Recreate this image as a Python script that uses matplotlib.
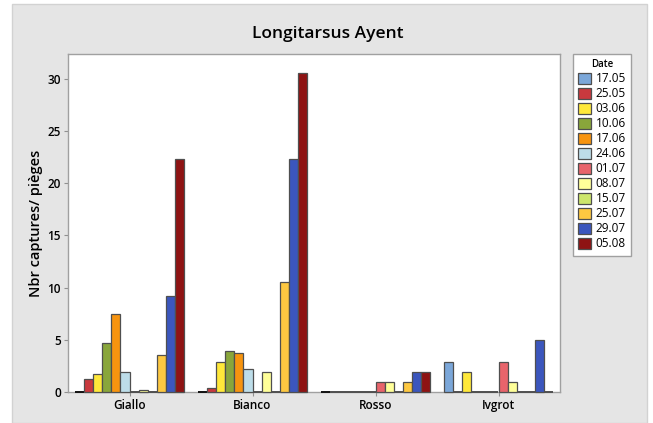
import numpy as np
import matplotlib.pyplot as plt
from matplotlib.patches import Rectangle, Patch

sites = ["Giallo", "Bianco", "Rosso", "Ivgrot"]
dates = ["17.05", "25.05", "03.06", "10.06", "17.06", "24.06",
         "01.07", "08.07", "15.07", "25.07", "29.07", "05.08"]
colors = ["#7ba7d9", "#c9393e", "#ffe83a", "#89a63b", "#f7940f", "#bddde9",
          "#e8646b", "#ffff99", "#cde66b", "#fdc841", "#3b56bd", "#8e1313"]

# mean captures per trap, one value per date
giallo = [0, 1.2, 1.7, 4.7, 7.5, 1.9, 0, 0.2, 0, 3.5, 9.2, 22.3]
bianco = [0, 0.4, 2.9, 3.9, 3.7, 2.2, 0, 1.9, 0, 10.5, 22.3, 30.5]
rosso = [0, 0, 0, 0, 0, 0, 1.0, 1.0, 0, 1.0, 1.9, 1.9]
ivgrot = [2.9, 0, 1.9, 0, 0, 0, 2.9, 1.0, 0, 0, 5.0, 0]

counts = np.array([giallo, bianco, rosso, ivgrot])

plt.rcParams['font.family'] = ['Open Sans', 'DejaVu Sans']

W, H = 653, 423
fig = plt.figure(figsize=(W / 100, H / 100), dpi=100, facecolor="white")

# grey panel behind everything
fig.patches.append(Rectangle((12 / W, 0), (647 - 12) / W, (H - 4.5) / H,
                             transform=fig.transFigure, facecolor="#e5e5e5",
                             edgecolor="#d2d2d2", linewidth=1, zorder=-5))

ax = fig.add_axes([68 / W, 1 - 392 / H, (560 - 68) / W, (392 - 54) / H])
ax.set_facecolor("white")

x = np.arange(len(sites))
width = 0.0734
n = len(dates)
for i, (d, c) in enumerate(zip(dates, colors)):
    offs = (i - (n - 1) / 2) * width
    # empty dates still show as a flat outline on the baseline
    edge = "#111111" if i == 0 else "#4f4f4f"
    bars = ax.bar(x + offs, counts[:, i], width, color=c, edgecolor="#4f4f4f",
                  linewidth=0.9, label=d, zorder=3, clip_on=False)
    for b, v in zip(bars, counts[:, i]):
        if v == 0:
            b.set_edgecolor(edge)
            b.set_linewidth(1.4)

ax.set_xlim(-0.5, 3.5)
ax.set_ylim(0, 32.35)
ax.set_yticks([0, 5, 10, 15, 20, 25, 30])
ax.set_xticks(x)
ax.set_xticklabels(sites, fontsize=8.5, fontweight="semibold")
ax.tick_params(axis="y", labelsize=8.5, length=3, color="#909090", pad=2)
ax.tick_params(axis="x", length=3, color="#909090", pad=2)
for lab in ax.get_yticklabels():
    lab.set_fontweight("semibold")
for s in ax.spines.values():
    s.set_color("#a0a0a0")
    s.set_linewidth(1)

ax.set_ylabel("Nbr captures/ pièges", fontsize=10.5, fontweight="semibold",
              labelpad=3)
fig.text(328 / W, 1 - 34 / H, "Longitarsus Ayent", ha="center", va="center",
         fontsize=12.5, fontweight="semibold")

handles = [Patch(facecolor=c, edgecolor="#4f4f4f", linewidth=0.9) for c in colors]
leg = fig.legend(handles, dates, title="Date", loc="upper left",
                 bbox_to_anchor=(573 / W, 1 - 54 / H), fontsize=8.5,
                 title_fontproperties={"size": 7, "weight": "semibold"},
                 frameon=True, fancybox=False, framealpha=1,
                 handlelength=1.1, handleheight=1.05, handletextpad=0.35,
                 labelspacing=0.17, borderpad=0.45, borderaxespad=0)
leg.get_frame().set_edgecolor("#a0a0a0")
leg.get_frame().set_linewidth(1)

fig.savefig("out.png", dpi=100, facecolor=fig.get_facecolor())
